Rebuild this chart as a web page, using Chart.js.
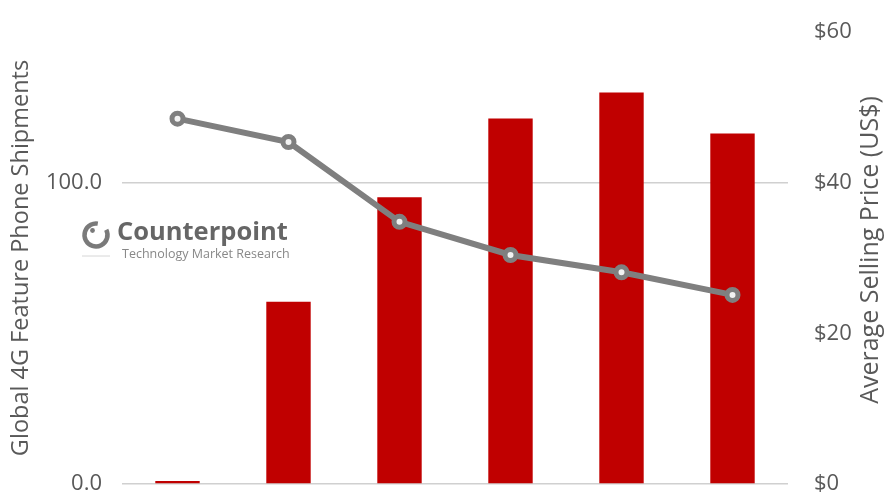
<!DOCTYPE html>
<html>
<head>
<meta charset="utf-8">
<script src="https://cdn.jsdelivr.net/npm/chart.js@4"></script>
<style>
html,body{margin:0;padding:0;background:#fff;}
#wrap{width:896px;height:504px;position:relative;}
</style>
</head>
<body>
<div id="wrap"><canvas id="c" width="896" height="504"></canvas></div>
<script>
const categories = ['2017', '2018', '2019', '2020', '2021', '2022'];
const shipments = [1.0, 60.5, 95.2, 121.3, 129.9, 116.3];
const asp = [48.5, 45.4, 34.8, 30.4, 28.1, 25.1];
const leftTicks = [0, 100];
const rightTicks = [0, 20, 40, 60];
const leftTitle = 'Global 4G Feature Phone Shipments';
const rightTitle = 'Average Selling Price (US$)';

const textColor = '#595959';
const fontFam = '"Open Sans", "Noto Sans", sans-serif';

const extras = {
  id: 'extras',
  beforeDatasetsDraw(chart) {
    const ctx = chart.ctx;
    ctx.save();
    // watermark icon
    ctx.strokeStyle = '#7a7a7a';
    ctx.lineWidth = 4.5;
    ctx.beginPath();
    ctx.arc(96, 235, 11.5, -0.15 * Math.PI, 1.55 * Math.PI);
    ctx.stroke();
    ctx.fillStyle = '#7a7a7a';
    ctx.beginPath();
    ctx.arc(92.5, 230.5, 2.4, 0, 2 * Math.PI);
    ctx.fill();
    ctx.strokeStyle = '#d6d6d6';
    ctx.lineWidth = 1;
    ctx.beginPath();
    ctx.moveTo(82, 256); ctx.lineTo(110, 256);
    ctx.stroke();
    ctx.fillStyle = '#666666';
    ctx.font = 'bold 25.5px ' + fontFam;
    ctx.textBaseline = 'alphabetic';
    ctx.textAlign = 'left';
    ctx.fillText('Counterpoint', 117, 240);
    ctx.fillStyle = '#888888';
    ctx.font = '12.5px ' + fontFam;
    ctx.fillText('Technology Market Research', 122, 258);
    ctx.restore();
  },
  afterDraw(chart) {
    const ctx = chart.ctx;
    ctx.save();
    ctx.translate(871, 250);
    ctx.rotate(-Math.PI / 2);
    ctx.fillStyle = textColor;
    ctx.font = '25px ' + fontFam;
    ctx.textAlign = 'center';
    ctx.textBaseline = 'middle';
    ctx.fillText(rightTitle, 0, 0);
    ctx.restore();
  }
};

new Chart(document.getElementById('c'), {
  data: {
    labels: categories,
    datasets: [
      {
        type: 'line',
        data: asp,
        yAxisID: 'y1',
        borderColor: '#7f7f7f',
        borderWidth: 6,
        tension: 0,
        pointRadius: 5.5,
        pointBorderWidth: 5,
        pointBackgroundColor: '#f2f2f2',
        pointBorderColor: '#7f7f7f',
        order: 0
      },
      {
        type: 'bar',
        data: shipments,
        yAxisID: 'y',
        backgroundColor: '#c00000',
        barPercentage: 0.4,
        categoryPercentage: 1.0,
        order: 1
      }
    ]
  },
  options: {
    responsive: false,
    animation: false,
    devicePixelRatio: 1,
    layout: { autoPadding: false, padding: { top: 32, bottom: 20, left: 0, right: 0 } },
    plugins: { legend: { display: false }, tooltip: { enabled: false } },
    scales: {
      x: { display: false },
      y: {
        position: 'left',
        min: 0, max: 150,
        afterBuildTicks(scale) { scale.ticks = leftTicks.map(v => ({ value: v })); },
        afterFit(scale) { scale.width = 122; scale.paddingTop = 0; scale.paddingBottom = 0; },
        grid: { color: '#d0d0d0', lineWidth: 1.5, drawTicks: false },
        border: { display: false },
        ticks: {
          padding: 20,
          color: textColor,
          font: { family: fontFam, size: 22 },
          callback: v => v.toFixed(1)
        },
        title: {
          display: true,
          text: leftTitle,
          color: textColor,
          font: { family: fontFam, size: 23.5 },
          padding: { top: 7, bottom: 0 }
        }
      },
      y1: {
        position: 'right',
        min: 0, max: 60,
        afterBuildTicks(scale) { scale.ticks = rightTicks.map(v => ({ value: v })); },
        afterFit(scale) { scale.width = 108; scale.paddingTop = 0; scale.paddingBottom = 0; },
        grid: { display: false },
        border: { display: false },
        ticks: {
          padding: 18,
          color: textColor,
          font: { family: fontFam, size: 22 },
          callback: v => '$' + v
        }
      }
    }
  },
  plugins: [extras]
});
</script>
</body>
</html>
